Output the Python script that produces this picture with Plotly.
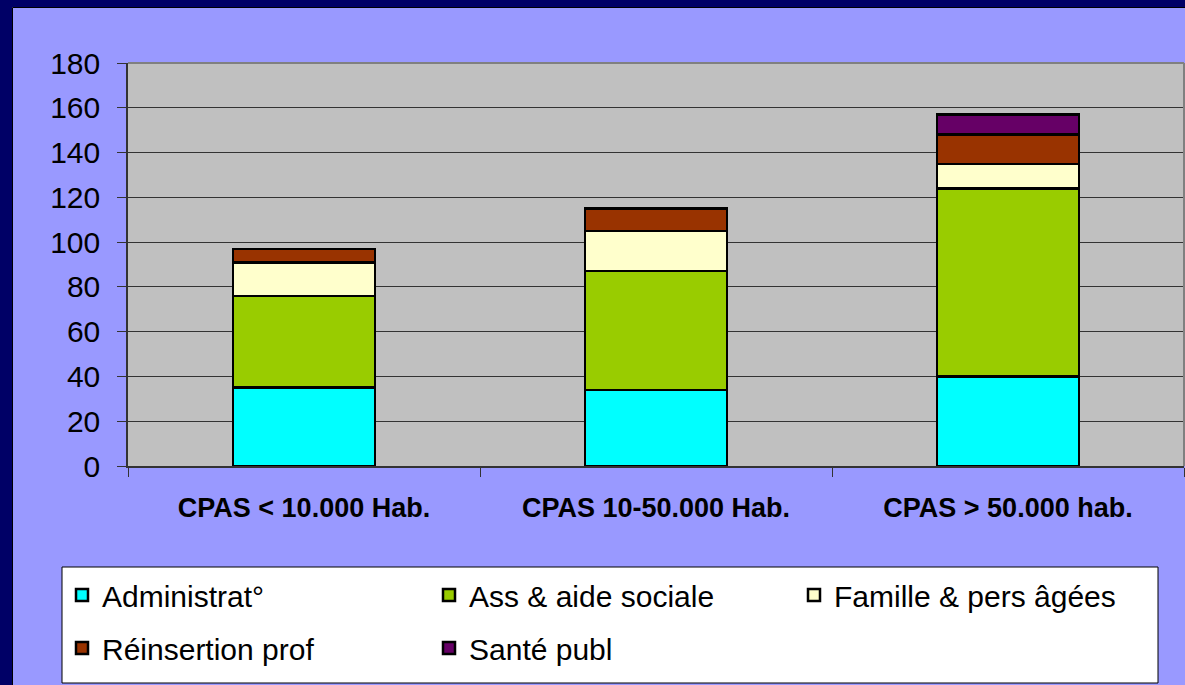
import plotly.graph_objects as go

categories = ["CPAS < 10.000 Hab.", "CPAS 10-50.000 Hab.", "CPAS > 50.000 hab."]
series_names = ["Administrat°", "Ass & aide sociale", "Famille & pers âgées", "Réinsertion prof", "Santé publ"]
administrat = [35, 34, 40]
ass_aide = [41, 53, 84]
famille = [15, 18, 11]
reinsertion = [6, 10, 13]
sante = [0, 0, 9]
y_ticks = [0, 20, 40, 60, 80, 100, 120, 140, 160, 180]

colors = ["#00FFFF", "#99CC00", "#FFFFCC", "#993300", "#660066"]
values = [administrat, ass_aide, famille, reinsertion, sante]
legend_ids = ["legend", "legend2", "legend3", "legend", "legend2"]

W, H = 1185, 685
L, R, T, B = 128, 1, 63, 219
pw, ph = W - L - R, H - T - B

def px(x):
    return (x - L) / pw

def py(y):
    return (H - B - y) / ph

fig = go.Figure()
for name, vals, col, lg in zip(series_names, values, colors, legend_ids):
    fig.add_trace(go.Bar(
        x=categories, y=vals, name=name, legend=lg, legendgroup=name,
        marker=dict(color=col, line=dict(color="#000000", width=2.5)),
    ))

shapes = [
    # legend box
    dict(type="rect", xref="paper", yref="paper", x0=px(62), x1=px(1158), y0=py(683), y1=py(567),
         fillcolor="#FFFFFF", line=dict(color="#000000", width=1), layer="below"),
    # plot area top/right border
    dict(type="line", xref="paper", yref="paper", x0=0, x1=1, y0=1, y1=1,
         line=dict(color="#808080", width=2), layer="above"),
    dict(type="line", xref="paper", yref="paper", x0=1, x1=1, y0=0, y1=1,
         line=dict(color="#808080", width=2), layer="above"),
    # navy frame
    dict(type="rect", xref="paper", yref="paper", x0=px(0), x1=px(12), y0=py(H), y1=py(0),
         fillcolor="#000066", line=dict(width=0), layer="below"),
    dict(type="rect", xref="paper", yref="paper", x0=px(0), x1=px(W), y0=py(7), y1=py(0),
         fillcolor="#000066", line=dict(width=0), layer="below"),
    dict(type="line", xref="paper", yref="paper", x0=px(12.5), x1=px(12.5), y0=py(H), y1=py(7.5),
         line=dict(color="#000000", width=1), layer="below"),
    dict(type="line", xref="paper", yref="paper", x0=px(12.5), x1=px(W), y0=py(7.5), y1=py(7.5),
         line=dict(color="#000000", width=1), layer="below"),
]

legend_font = dict(size=30, family="Liberation Sans, Arial, sans-serif", color="#000000")

def leg(xpix):
    return dict(
        orientation="v", xref="container", yref="container",
        x=xpix / W, xanchor="left", y=1 - 569 / H, yanchor="top",
        bgcolor="rgba(0,0,0,0)", borderwidth=0,
        font=legend_font, traceorder="grouped", tracegroupgap=11,
    )

fig.update_layout(
    width=W, height=H,
    margin=dict(l=L, r=R, t=T, b=B, autoexpand=False),
    paper_bgcolor="#9999FF",
    plot_bgcolor="#C0C0C0",
    barmode="stack",
    bargap=0.597,
    font=dict(family="Liberation Sans, Arial, sans-serif", color="#000000"),
    showlegend=True,
    legend=leg(62),
    legend2=leg(429),
    legend3=leg(794),
    shapes=shapes,
)

fig.update_yaxes(
    range=[0, 180], tickvals=y_ticks, ticks="outside", ticklen=9, tickcolor="#333333",
    showgrid=True, gridcolor="#333333", gridwidth=1,
    showline=True, linecolor="#333333", linewidth=1.5,
    tickfont=dict(size=30), ticklabelstandoff=11, zeroline=False,
)
fig.update_xaxes(
    type="category", tickson="boundaries", ticks="outside", ticklen=9, tickcolor="#333333",
    showline=True, linecolor="#333333", linewidth=2,
    tickfont=dict(size=27, family="Liberation Sans, Arial, sans-serif"),
    tickprefix="<b>", ticksuffix="</b>", ticklabelstandoff=17,
)

fig.write_html("out.html", config={"displayModeBar": False},
               post_script="document.body.style.margin='0px';")
